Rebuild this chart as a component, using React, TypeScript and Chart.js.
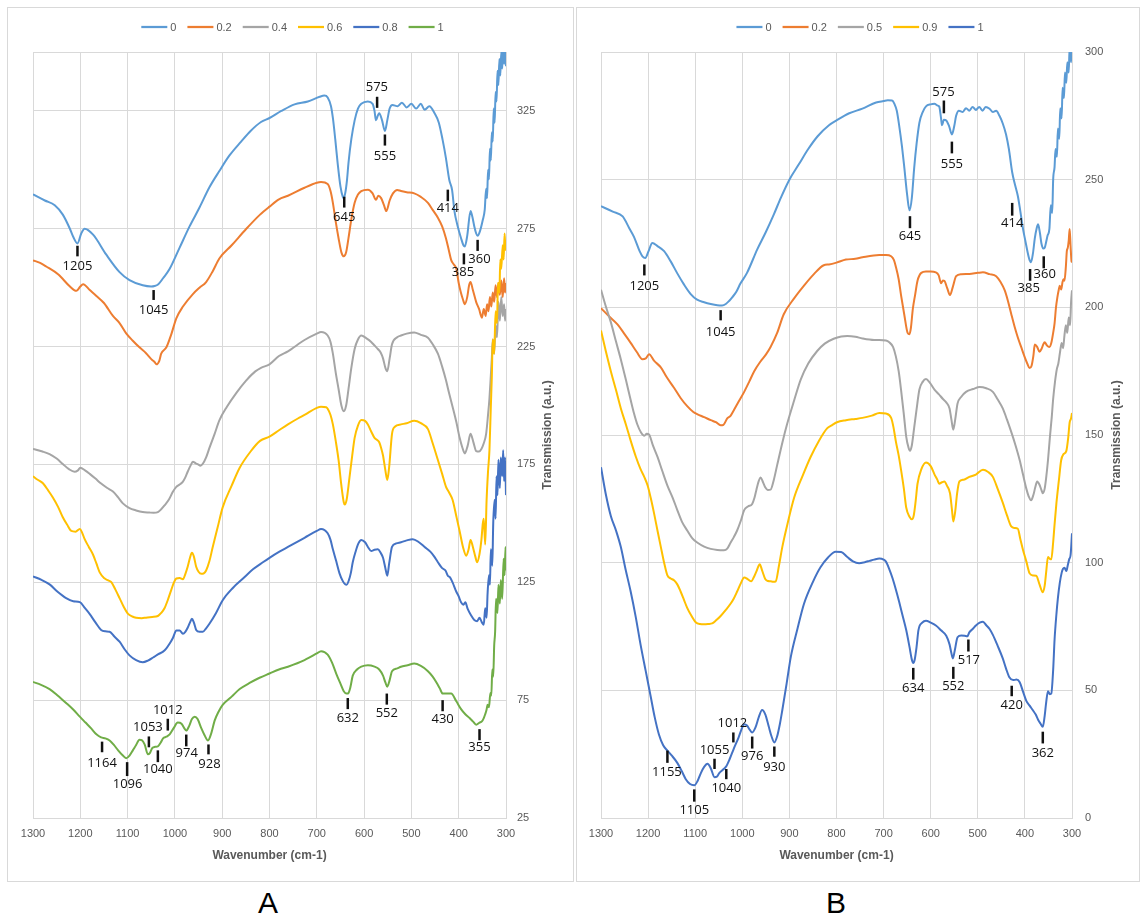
import React, { useEffect, useRef } from "react";
import { Chart, registerables } from "chart.js";

Chart.register(...registerables);
Chart.defaults.font.family = "'Liberation Sans', Arial, sans-serif";

// ---------------- Panel A data: [wavenumber (cm-1), transmission] ----------------
const seriesLabelsA = ["0", "0.2", "0.4", "0.6", "0.8", "1"];
const colorsA = ["#5B9BD5", "#ED7D31", "#A5A5A5", "#FFC000", "#4472C4", "#70AD47"];

const specA_0: [number, number][] = [
  [1300,289.6],[1275,287],[1254,285],[1237,281],[1222,275],[1215,271.6],[1206,268.8],[1198,273],[1191,275],[1173,272.5],[1145,264],[1117,256.6],[1096,253.2],[1068,251],[1050,250.5],[1043,250.7],[1035,251.5],[1025,254],[1011,258],[990,267],[969,276],[948,284],[927,292.6],[906,299.5],[885,306],[860,312],[840,316.5],[818,320.3],[800,322],[775,325],[747,327.8],[719,329],[694,331],[684,331.5],[677,330.7],[670,327],[666,322],[661,313],[656,303],[650,293],[645,288.5],[643,288],[640,290],[636,296],[633,303],[627,313],[620,321],[613,326],[606,328],[592,329],[582,328],[578,325],[575,321],[571,323],[568,324],[562,321],[556,316.5],[551,321],[546,326],[540,327.5],[529,327],[520,328.5],[510,326.5],[500,328],[490,326],[480,328],[472,325.5],[462,327],[451,324],[442,320],[434,312.7],[427,305],[420,295.8],[414,291.5],[409,282.5],[402,276],[395,271],[390,268],[387,267.5],[382,272],[375,282.5],[371,280],[367,276],[363,273],[360,272],[355,274],[349,278.8],[345,283],[342,292],[340,288],[338,300],[336,296],[334,309],[332,304],[330,316],[328,312],[326,326],[324,320],[322,333],[320,329],[318,342],[316,336],[314,347],[312,340],[310,350],[308,343],[306,352],[304,345],[302,351],[300,344],
];
const specA_02: [number, number][] = [
  [1300,261.6],[1285,260.5],[1272,259],[1247,255.7],[1223,250.7],[1213,249],[1208,248.7],[1200,250.5],[1194,251.5],[1180,249],[1166,246.5],[1150,243.5],[1131,238],[1117,235],[1103,230.6],[1089,227.5],[1075,224.7],[1061,222.2],[1050,219.7],[1043,218.5],[1039,217.5],[1033,219],[1029,222],[1018,224.7],[1008,230],[997,237],[983,242],[962,247.3],[948,250],[934,252.4],[920,257],[906,262.4],[880,268],[849,275],[820,281],[800,284.4],[780,287.5],[761,289],[726,292.4],[700,294.5],[691,294.8],[677,294],[671,291],[666,286],[660,278],[654,271],[648,265],[643,263.3],[638,265],[633,271],[627,279],[620,286],[613,289.5],[606,291],[592,291.6],[582,290],[575,287.3],[570,289],[564,288],[558,285],[553,282.5],[546,287],[539,290],[530,291.5],[522,291],[510,290.5],[494,290],[480,288.5],[465,286],[455,283],[444,279.7],[435,276],[427,271],[421,266],[416,261.8],[411,260],[405,258],[400,252],[395,247.6],[391,245],[387,243],[382,246],[378,251],[375,252.4],[370,249],[363,243.9],[357,241],[351,237.3],[347,241],[343,238],[340,243],[337,240],[334,246],[331,242],[328,248],[325,244],[322,251],[319,246],[316,252],[313,247],[310,253],[307,246],[304,254],[302,248],[300,252],
];
const specA_04: [number, number][] = [
  [1300,181.6],[1280,180.5],[1265,179.4],[1250,177.5],[1237,175.2],[1224,173],[1212,171.9],[1205,172.5],[1200,173.6],[1190,172.5],[1180,171],[1168,169],[1156,166.9],[1143,165],[1131,163.5],[1120,161],[1110,158.5],[1096,156.5],[1082,155.5],[1068,154.8],[1054,154.6],[1045,154.5],[1036,154.8],[1029,156],[1022,157.6],[1013,160],[1004,163.5],[997,165.5],[990,166.5],[983,167.7],[978,169.5],[973,171.9],[967,174.5],[962,176.1],[956,175.5],[951,175],[946,174.5],[941,175.3],[934,178],[927,182],[916,188],[906,193.7],[890,199.5],[870,205.4],[850,210.5],[830,214.5],[818,216],[800,217.5],[780,221],[761,223],[726,227.8],[700,230.5],[691,231.2],[677,229.7],[671,227],[666,222],[660,214],[654,207],[648,200],[643,197.6],[638,200],[633,207],[627,216],[620,224],[613,228],[606,229.7],[595,228.5],[585,227],[578,225.5],[571,224],[565,222.5],[560,220],[555,216],[551,214.6],[546,220],[541,226],[530,229],[522,229.7],[510,230.5],[494,231],[480,230],[465,228.8],[455,226],[444,222],[435,216.5],[427,210.8],[420,205],[413,199.5],[405,193],[398,186.3],[392,182],[387,179.7],[381,183],[375,188],[369,184.5],[363,180.7],[357,180.5],[352,181.6],[347,184],[342,188],[338,196],[335,203],[332,213],[330,220],[328,228],[325,222],[322,234],[319,229],[316,244],[313,236],[310,246],[307,238],[304,243],[302,236],[300,241],
];
const specA_06: [number, number][] = [
  [1300,170],[1290,168.5],[1279,167],[1268,164],[1258,161],[1247,157],[1237,152.6],[1228,149.5],[1219,146.8],[1210,146.5],[1201,147.6],[1196,146],[1191,143.4],[1182,140],[1173,136.7],[1166,133],[1159,129.2],[1149,126.7],[1141,125.8],[1134,125],[1126,122],[1117,118.3],[1108,114.5],[1099,111.6],[1090,110.5],[1082,110],[1070,109.8],[1061,110],[1048,110.3],[1036,110.7],[1029,112],[1022,114],[1015,117.5],[1008,121.6],[1002,125],[997,126.6],[990,126.8],[983,126.3],[978,128.5],[973,131.6],[968,135.5],[964,137.5],[960,136],[955,131.6],[950,129.5],[944,128.6],[939,128.8],[934,130],[927,134],[920,140],[910,148],[899,156.8],[880,166],[863,173.6],[840,180.5],[820,185],[800,186.8],[780,189.5],[761,192],[740,194.5],[726,196],[700,199],[691,199.5],[680,199.3],[677,198.6],[671,196],[666,192],[660,185],[654,176.9],[648,166],[643,159],[641,158],[637,160],[631,169.3],[625,179],[620,186.3],[613,191.5],[606,193.9],[598,193.5],[592,192],[585,189],[578,186.3],[573,185.5],[568,184.4],[564,182],[560,178.8],[555,172.5],[551,168.4],[547,174],[541,188],[535,191],[522,192],[510,192.5],[494,193.5],[480,192.5],[465,190],[455,184],[444,176.9],[435,171],[427,165.6],[420,163],[413,160],[405,153],[398,146.7],[391,140],[384,136.3],[379,139],[375,143],[370,140],[365,136],[361,133.5],[356,137],[352,143],[349,150],[347,152],[344,141],[341,160],[338,172],[335,181],[332,200],[330,212],[328,228],[325,222],[322,240],[319,235],[317,252],[314,248],[312,262],[310,258],[307,268],[305,262],[303,273],[301,266],[300,270],
];
const specA_08: [number, number][] = [
  [1300,127.5],[1282,126],[1265,124.1],[1248,121],[1230,118.3],[1215,117],[1201,116.6],[1190,114],[1180,111.5],[1168,108],[1156,104.8],[1147,104.2],[1138,104],[1128,102],[1117,99.8],[1106,96.5],[1096,94],[1082,92],[1068,91.1],[1057,91.8],[1046,93.1],[1035,94.5],[1025,95.6],[1018,97],[1011,99],[1004,101.5],[997,104.5],[990,104.5],[983,103.2],[978,104],[973,105.7],[968,108],[964,109.5],[960,108],[955,104.8],[948,104],[941,104],[934,105.5],[927,107.4],[913,112],[899,117.4],[878,122.5],[856,126.6],[835,130.5],[814,133.5],[800,135.4],[779,138],[761,140],[726,143.9],[700,146.8],[691,147.6],[677,145.8],[671,143],[666,139],[659,134],[652,128.8],[645,125.5],[640,124.2],[637,124],[632,126],[628,129],[624,133.5],[618,138],[612,141.5],[606,143],[598,142],[592,140],[585,138.3],[578,138.8],[571,139],[565,137.5],[560,135.4],[555,131],[551,127.8],[547,133],[541,140],[532,141.5],[522,142],[510,142.8],[497,143.3],[484,142],[472,140],[460,138],[452,136],[444,133.5],[435,131],[428,130],[423,127.8],[418,127],[413,125],[405,121],[400,119],[395,116.5],[390,115.5],[386,116.5],[381,113.7],[374,111],[367,109],[361,108.5],[356,110],[351,108],[347,107],[344,114],[341,110],[339,120],[336,128],[334,124],[332,139],[329,132],[327,150],[324,160],[322,152],[320,170],[318,162],[316,177],[313,165],[311,178],[308,170],[306,181],[304,168],[302,178],[300,162],
];
const specA_1: [number, number][] = [
  [1300,82.7],[1283,81.5],[1265,79.7],[1248,77],[1230,73.8],[1215,71],[1201,68],[1189,65.5],[1177,63],[1166,60.5],[1156,59.2],[1147,58.8],[1138,57.9],[1129,56],[1120,53.7],[1110,51.5],[1103,50.4],[1096,51.5],[1089,53.7],[1082,56],[1075,58.2],[1070,58],[1064,56.2],[1057,52],[1053,52.5],[1048,54.6],[1042,55.2],[1036,55.4],[1030,57],[1025,58.8],[1018,59.5],[1011,60.5],[1003,63],[994,65.5],[986,65],[980,63],[976,62.1],[970,64],[964,67],[958,68],[952,67],[944,63],[937,60],[930,57.9],[923,61],[916,66.3],[908,70],[899,73],[880,76.5],[863,79.7],[840,82.5],[821,84.5],[800,86.3],[780,88],[761,89.2],[726,92],[700,94.8],[691,95.8],[677,94.3],[668,91],[659,86.3],[650,82],[643,78.8],[637,77.8],[634,77.8],[629,80.5],[624,85.4],[615,88],[606,89.2],[592,89.8],[578,89.2],[568,88],[560,85.4],[555,82.5],[551,80.7],[546,83.5],[541,87.3],[530,88.5],[522,89.2],[508,89.8],[494,90.5],[480,89.5],[465,87.3],[455,85],[447,82.5],[440,80],[434,77.8],[425,77.8],[416,77.8],[405,74.5],[395,71.2],[386,69],[377,67.4],[370,66],[363,64.6],[356,65.5],[351,66],[347,67.4],[344,69],[341,71],[339,73],[336,72],[333,78],[331,77],[329,88],[327,85],[325,98],[323,104],[321,118],[318,112],[316,124],[313,116],[311,126],[308,118],[305,135],[303,128],[301,140],[300,130],
];
const spectraA = [specA_0, specA_02, specA_04, specA_06, specA_08, specA_1];

// ---------------- Panel B data ----------------
const seriesLabelsB = ["0", "0.2", "0.5", "0.9", "1"];
const colorsB = ["#5B9BD5", "#ED7D31", "#A5A5A5", "#FFC000", "#4472C4"];

const specB_0: [number, number][] = [
  [1300,239.6],[1275,237.5],[1254,235.6],[1240,231],[1230,227.6],[1218,222],[1212,220],[1206,219.3],[1199,222],[1191,225.2],[1180,224],[1166,222],[1152,218],[1138,213.3],[1124,209],[1110,205.3],[1096,203],[1081,202],[1067,201.3],[1053,200.8],[1043,200.7],[1035,201.3],[1028,202.5],[1021,204],[1013,206],[1004,209.3],[990,213.5],[968,222.8],[950,229.5],[933,236.4],[918,243],[900,250],[880,256],[860,262],[840,267],[816,271.3],[800,273.2],[773,276],[745,277.8],[716,280.2],[700,280.8],[691,281.1],[682,281],[677,279.7],[672,277],[667,271.3],[661,263],[656,254.7],[650,244],[645,238],[640,243],[635,254.7],[630,264],[624,272.3],[617,276.5],[610,278.7],[600,279.5],[592,279.7],[585,279],[582,278.7],[578,274],[576,271.3],[572,273.5],[567,273.2],[561,271],[555,267.7],[550,271],[546,275],[540,277],[532,276.5],[525,278],[518,277],[511,278.5],[504,277.3],[497,278.5],[490,277],[483,278.5],[475,277.8],[468,276.5],[461,277],[454,275],[447,272],[440,267.7],[434,262],[427,252.9],[421,248],[415,243.6],[410,238],[404,230.7],[399,226],[394,221.4],[390,218.5],[387,217.7],[383,221],[379,227],[375,231],[372,232.5],[368,229],[365,225.1],[361,223],[358,223.3],[355,225.5],[352,228],[348,230.7],[345,240],[342,237],[340,250],[337,255],[335,262],[332,259],[330,270],[327,266],[325,278],[322,274],[320,286],[317,282],[315,292],[312,288],[310,296],[307,292],[305,302],[302,296],[300,303],
];
const specB_02: [number, number][] = [
  [1300,199.7],[1283,196.5],[1265,193.3],[1250,189.5],[1237,186.1],[1224,182.5],[1212,179.7],[1205,180],[1198,181.6],[1187,179],[1173,176.5],[1160,172.5],[1145,168.5],[1131,164.5],[1117,161.3],[1104,159],[1095,158.1],[1081,157],[1067,155.8],[1056,155],[1046,153.8],[1040,154],[1032,156.5],[1025,157.5],[1018,159.7],[1008,163],[996,166.9],[985,171],[975,174.9],[961,178.9],[950,181.5],[940,184.5],[926,190],[912,197.3],[890,203.5],[869,208.5],[848,213],[827,216.5],[816,216.8],[800,217.5],[780,218.7],[760,219],[745,219.6],[709,220.5],[695,220.5],[684,220],[678,218.5],[674,215.9],[668,211],[663,204.8],[656,197],[649,190],[645,189.5],[642,192],[638,199.3],[633,205],[628,210.4],[620,213.5],[610,214],[600,214],[589,213.7],[583,212.5],[578,209.4],[574,210.5],[571,210.4],[565,207.5],[559,204.8],[553,208],[546,212.2],[535,213],[518,213.1],[500,213.5],[489,213.7],[475,213],[461,212.2],[452,210],[443,206.7],[436,202.5],[429,197.4],[422,192.5],[415,188.2],[408,184.5],[401,180.8],[395,178],[390,176.2],[386,177],[382,181],[379,185.4],[374,184.5],[369,182.6],[364,184],[361,185.5],[358,186.3],[353,185],[348,184.5],[344,186],[340,190],[337,193.7],[334,200],[331,204],[328,207],[326,208.5],[323,207],[320,210],[318,211],[316,210.4],[313,216],[311,222],[309,223.3],[307,226],[305,230.7],[303,224],[301,218],[300,217.7],
];
const specB_05: [number, number][] = [
  [1300,206.9],[1290,200.5],[1279,194.1],[1268,186.5],[1258,179.7],[1247,171.5],[1237,163.7],[1230,158.5],[1223,154.2],[1215,151],[1208,149.7],[1203,150.5],[1198,150.2],[1190,146],[1180,141.4],[1170,136],[1159,130.2],[1148,125.5],[1138,120.6],[1128,116],[1117,112.6],[1106,109.5],[1095,107.8],[1081,106.3],[1067,105.4],[1053,105],[1039,104.9],[1032,105.5],[1025,107.8],[1018,110],[1011,112.6],[1003,116.5],[996,120.6],[988,122],[979,123],[974,125.5],[970,128.6],[965,132],[961,133.4],[956,131.5],[951,129.4],[946,128.5],[940,128.6],[933,132.5],[926,138.2],[915,147],[905,154.2],[890,163.5],[876,171.7],[860,178],[841,182.9],[825,185.8],[806,187.7],[790,188.6],[777,188.8],[760,188.5],[745,187.8],[720,187.2],[709,187.2],[695,187],[688,186.3],[680,184.5],[674,180.8],[668,175],[663,167.8],[657,158],[652,149.4],[647,145],[644,143.8],[640,146],[635,153],[630,160],[624,167.8],[617,170.8],[610,171.9],[602,170.5],[592,167.8],[583,166],[574,164.1],[567,162.8],[560,160.4],[556,156],[552,152.1],[548,156],[543,162.3],[535,165],[525,166.9],[510,168],[496,168.8],[482,168.3],[468,166.9],[458,164],[447,160.4],[438,156],[429,151.2],[420,146],[411,140.1],[404,134.5],[397,129],[392,126],[387,124.4],[382,126.5],[378,129.5],[374,131.8],[369,130.5],[365,128.5],[362,127.2],[358,129],[355,133],[351,140.1],[347,149],[343,157],[340,164.1],[336,171],[332,176],[329,178],[325,183],[322,186],[319,184],[316,189],[313,193],[310,190],[307,196],[304,193],[302,202],[300,206.7],
];
const specB_09: [number, number][] = [
  [1300,190.9],[1290,183],[1279,174.9],[1268,167.5],[1258,160.5],[1247,154],[1237,147.8],[1226,141.5],[1216,136.6],[1208,133.5],[1201,130.2],[1194,125],[1187,119],[1180,112.5],[1173,106.2],[1166,100],[1159,95],[1152,93.8],[1145,93.1],[1138,91.5],[1131,88.7],[1124,85.5],[1117,82.3],[1108,79.2],[1099,76.7],[1090,76],[1081,75.9],[1072,76],[1064,76.2],[1055,77.5],[1046,79.1],[1035,81.5],[1025,83.9],[1018,86],[1011,88.7],[1003,92],[996,94.2],[988,93.5],[981,92.7],[975,94.5],[970,96.6],[966,98.5],[963,99.4],[958,97],[951,93.5],[945,92.8],[940,92.7],[934,92.5],[929,92.7],[922,99],[915,106.2],[903,116],[890,125.4],[872,134],[855,141.4],[838,147.5],[820,152.6],[810,153.8],[799,155],[780,155.8],[760,156.3],[745,156.7],[725,157.6],[709,158.6],[695,158.4],[684,156.7],[679,153],[674,147.5],[668,142],[663,136.4],[657,129],[652,121.6],[645,118],[640,117],[636,118.5],[632,124],[628,130.9],[620,136.5],[610,139.2],[600,137.8],[592,134.6],[586,132.5],[582,130.9],[576,131.5],[571,131.8],[565,130],[559,127.2],[555,121],[552,116.1],[548,120],[544,127],[539,131.8],[530,132.5],[518,133.6],[504,134.5],[489,136.4],[478,135.5],[468,133.6],[458,129],[447,123.5],[438,118.5],[429,114.2],[422,113.6],[415,113.3],[410,109.5],[404,105],[397,100.5],[390,95.8],[383,95],[376,94.9],[369,91.5],[362,88.4],[358,91],[355,96],[351,102.2],[347,101.5],[344,101.3],[340,108],[337,115],[333,123.5],[328,132],[323,140.1],[318,142.5],[312,143.8],[308,149],[305,154.9],[302,156.5],[300,158.6],
];
const specB_1: [number, number][] = [
  [1300,137.4],[1290,127],[1279,118.2],[1268,112.5],[1258,106.2],[1248,97.5],[1237,88.7],[1226,78.5],[1216,67.9],[1205,57.5],[1194,47.1],[1186,39.5],[1177,32.7],[1168,28.5],[1159,26.4],[1150,24.5],[1138,21.6],[1129,18.5],[1120,15.2],[1111,13.3],[1102,12.8],[1095,14.5],[1088,17.6],[1081,20],[1074,21.2],[1067,19.5],[1059,16],[1054,16.2],[1049,17.6],[1042,18.8],[1035,20],[1027,23],[1018,27.2],[1008,31.5],[1000,35.5],[996,36.7],[990,36.2],[984,34.5],[979,33.5],[972,35.5],[965,39.5],[958,42.3],[951,40.5],[944,35.9],[938,32],[932,29.6],[926,32],[920,37],[915,42.3],[906,52.5],[897,63.1],[883,74],[869,83.9],[850,92.5],[834,98.2],[818,102],[802,104.3],[790,104.2],[777,102.2],[765,100.5],[752,99.8],[740,100.2],[730,100.7],[720,101.2],[709,101.6],[700,101.2],[695,100.4],[688,97.5],[681,93.9],[674,89.5],[667,84.7],[660,79.5],[652,73.6],[645,67],[640,62],[637,60.7],[634,62],[630,67],[626,73.6],[618,76.5],[610,77.3],[600,76.5],[589,75.4],[578,73.5],[567,71.4],[560,68],[556,64.5],[553,62.5],[549,65.5],[543,70.8],[535,71.5],[528,71.4],[522,71.2],[518,72.7],[511,74],[504,75.4],[496,76.5],[489,76.9],[482,75.5],[475,74],[468,71.7],[458,67.5],[447,62.5],[440,58.5],[433,55.1],[425,54],[418,54.2],[411,53.2],[404,49.5],[397,45.9],[390,44],[383,42.2],[377,40.5],[372,38.5],[367,37],[362,35.7],[358,40],[355,45],[351,49.6],[347,48.5],[344,48.7],[340,58],[337,69.9],[333,80],[330,86],[326,92],[322,96],[319,97.6],[316,98],[312,96.7],[309,99],[306,101.3],[303,103],[300,111.5],
];
const spectraB = [specB_0, specB_02, specB_05, specB_09, specB_1];

// ---------------- axes ----------------
const xTicks = [1300, 1200, 1100, 1000, 900, 800, 700, 600, 500, 400, 300];
const yTicksA = [25, 75, 125, 175, 225, 275, 325];
const yMaxA = 350;
const yTicksB = [0, 50, 100, 150, 200, 250, 300];

// ---------------- peak labels: [text, tick wn, tick top, tick bottom, text wn, text centre] ----------------
const peaksA: [string, number, number, number, number, number][] = [
  ["1205", 1206, 267.8, 263.3, 1206, 259.1],
  ["1045", 1045, 249, 244.8, 1045, 240.6],
  ["645", 642, 288.6, 284, 642, 279.7],
  ["575", 572.5, 331, 326.3, 573, 335],
  ["555", 556, 315, 310.3, 556, 305.8],
  ["414", 423, 291.6, 286.7, 423, 283.5],
  ["385", 389, 264.6, 259.9, 391, 256.7],
  ["360", 360, 270.3, 265.6, 356, 262.2],
  ["632", 634.5, 75.9, 71.2, 634.5, 67.5],
  ["552", 552, 77.8, 73.1, 552, 69.3],
  ["430", 434, 75, 70.3, 434, 66.9],
  ["355", 356, 62.7, 58, 356, 55.2],
  ["1164", 1154, 57.4, 52.9, 1154, 48.3],
  ["1096", 1101, 48.7, 42.8, 1100, 39.5],
  ["1053", 1055, 59.6, 55, 1057, 63.3],
  ["1040", 1036, 53.7, 48.7, 1036, 45.7],
  ["1012", 1015, 67.1, 62.1, 1015, 70.8],
  ["974", 976, 60.4, 55.4, 975, 52.4],
  ["928", 929, 56.2, 52, 927, 47.8],
];
const peaksB: [string, number, number, number, number, number][] = [
  ["1205", 1208, 216.8, 212.5, 1208, 208.1],
  ["1045", 1046, 198.9, 194.9, 1046, 190.1],
  ["645", 644, 235.7, 231, 644, 227.9],
  ["575", 572, 281, 276, 573, 284.3],
  ["555", 555, 264.9, 260.3, 555, 256.2],
  ["414", 427, 240.9, 235.9, 427, 233.1],
  ["385", 389, 215, 210.4, 392, 207.6],
  ["360", 360, 220, 215.3, 358, 212.8],
  ["1155", 1159, 26.4, 21.6, 1160, 18],
  ["1105", 1102, 11.2, 6.4, 1102, 3.2],
  ["1055", 1059, 23.2, 19.2, 1059, 26.7],
  ["1040", 1034, 19.2, 15.2, 1034, 11.7],
  ["1012", 1019, 33.5, 29.6, 1021, 37],
  ["976", 979, 31.9, 27.2, 979, 24],
  ["930", 932, 28, 24, 932, 20],
  ["634", 637, 58.8, 54.2, 637, 50.8],
  ["552", 552, 59.2, 54.5, 552, 51.4],
  ["517", 520, 69.9, 65.2, 519, 61.6],
  ["420", 428, 51.8, 47.7, 428, 44],
  ["362", 362, 33.8, 29.2, 362, 25.5],
];

const GRID = "#d9d9d9";
const TXT = "#595959";

type PanelProps = {
  labels: string[];
  colors: string[];
  spectra: [number, number][][];
  yMin: number;
  yMax: number;
  yTicks: number[];
  peaks: [string, number, number, number, number, number][];
  width: number;
  height: number;
  areaLeft: number;
  yAxisWidth: number;
  yTickPad: number;
  yTitleOffset: number;
};

function Panel(props: PanelProps) {
  const ref = useRef<HTMLCanvasElement | null>(null);
  useEffect(() => {
    const canvas = ref.current;
    if (!canvas) return;
    const tickList = props.yTicks.indexOf(props.yMax) >= 0 ? props.yTicks : [...props.yTicks, props.yMax];

    const overlay = {
      id: "overlay",
      afterDatasetsDraw(chart: any) {
        const ctx = chart.ctx as CanvasRenderingContext2D;
        const xs = chart.scales.x;
        const ys = chart.scales.y;
        ctx.save();
        for (const p of props.peaks) {
          const [text, wn, top, bottom, twn, ty] = p;
          const x = xs.getPixelForValue(wn);
          ctx.strokeStyle = "#111";
          ctx.lineWidth = 2.5;
          ctx.beginPath();
          ctx.moveTo(x, ys.getPixelForValue(top));
          ctx.lineTo(x, ys.getPixelForValue(bottom));
          ctx.stroke();
          ctx.fillStyle = "#111";
          ctx.font = "13px 'Open Sans', 'Liberation Sans', sans-serif";
          ctx.textAlign = "center";
          ctx.textBaseline = "middle";
          ctx.fillText(text, xs.getPixelForValue(twn), ys.getPixelForValue(ty));
        }
        ctx.restore();
      },
      afterDraw(chart: any) {
        const ctx = chart.ctx as CanvasRenderingContext2D;
        const area = chart.chartArea;
        ctx.save();
        // legend
        ctx.font = "11px 'Liberation Sans', Arial, sans-serif";
        const lineLen = 26, gapText = 3, gapItem = 11;
        const widths = props.labels.map((l) => ctx.measureText(l).width);
        let total = 0;
        widths.forEach((w, i) => {
          total += lineLen + gapText + w + (i < widths.length - 1 ? gapItem : 0);
        });
        let x = chart.width / 2 + 2 - total / 2;
        const y = 19;
        props.labels.forEach((l, i) => {
          ctx.strokeStyle = props.colors[i];
          ctx.lineWidth = 2.25;
          ctx.beginPath();
          ctx.moveTo(x, y);
          ctx.lineTo(x + lineLen, y);
          ctx.stroke();
          ctx.fillStyle = TXT;
          ctx.textAlign = "left";
          ctx.textBaseline = "middle";
          ctx.fillText(l, x + lineLen + gapText, y + 0.5);
          x += lineLen + gapText + widths[i] + gapItem;
        });
        // y axis title (reads bottom to top)
        ctx.translate(area.right + props.yTitleOffset, (area.top + area.bottom) / 2);
        ctx.rotate(-Math.PI / 2);
        ctx.font = "bold 12px 'Liberation Sans', Arial, sans-serif";
        ctx.fillStyle = TXT;
        ctx.textAlign = "center";
        ctx.textBaseline = "middle";
        ctx.fillText("Transmission (a.u.)", 0, 0);
        ctx.restore();
      },
    };

    const chart = new Chart(canvas, {
      type: "line",
      data: {
        datasets: props.labels.map((lab, i) => ({
          label: lab,
          data: props.spectra[i].map(([w, v]) => ({ x: w, y: v })),
          borderColor: props.colors[i],
          backgroundColor: props.colors[i],
          borderWidth: 2,
          pointRadius: 0,
          cubicInterpolationMode: "monotone",
          order: props.labels.length - i,
        })),
      },
      options: {
        responsive: false,
        animation: false,
        devicePixelRatio: 1,
        events: [],
        layout: { padding: { left: props.areaLeft, top: 44, right: 0, bottom: 0 } },
        plugins: { legend: { display: false }, tooltip: { enabled: false } },
        scales: {
          x: {
            type: "linear",
            min: 300,
            max: 1300,
            reverse: true,
            afterBuildTicks: (s: any) => {
              s.ticks = xTicks.map((v) => ({ value: v }));
            },
            afterFit: (s: any) => {
              s.height = 63;
            },
            grid: { color: GRID, lineWidth: 1, drawTicks: false },
            border: { color: GRID },
            ticks: {
              padding: 9,
              color: TXT,
              font: { size: 11 },
              maxRotation: 0,
              autoSkip: false,
              callback: (v: any) => String(v),
            },
            title: {
              display: true,
              text: "Wavenumber (cm-1)",
              color: TXT,
              font: { size: 12, weight: "bold" },
              padding: { top: 0, bottom: 18 },
            },
          },
          y: {
            type: "linear",
            position: "right",
            min: props.yMin,
            max: props.yMax,
            afterBuildTicks: (s: any) => {
              s.ticks = tickList.map((v) => ({ value: v }));
            },
            afterFit: (s: any) => {
              s.width = props.yAxisWidth;
            },
            grid: { color: GRID, lineWidth: 1, drawTicks: false },
            border: { color: GRID },
            ticks: {
              padding: props.yTickPad,
              color: TXT,
              font: { size: 11 },
              callback: (v: any) => (props.yTicks.indexOf(Number(v)) >= 0 ? String(v) : ""),
            },
          },
        },
      },
      plugins: [overlay],
    } as any);
    return () => chart.destroy();
  }, []);
  return <canvas ref={ref} width={props.width} height={props.height} style={{ display: "block", width: props.width, height: props.height }} />;
}

export default function App() {
  return (
    <div style={{ position: "absolute", left: 0, top: 0, width: 1140, height: 919, background: "#fff", overflow: "hidden" }}>
      <div style={{ position: "absolute", left: 7, top: 7, width: 567, height: 875, border: `1px solid ${GRID}`, boxSizing: "border-box" }}>
        <Panel
          labels={seriesLabelsA}
          colors={colorsA}
          spectra={spectraA}
          yMin={25}
          yMax={yMaxA}
          yTicks={yTicksA}
          peaks={peaksA}
          width={565}
          height={873}
          areaLeft={25}
          yAxisWidth={67}
          yTickPad={11}
          yTitleOffset={42}
        />
      </div>
      <div style={{ position: "absolute", left: 576, top: 7, width: 564, height: 875, border: `1px solid ${GRID}`, boxSizing: "border-box" }}>
        <Panel
          labels={seriesLabelsB}
          colors={colorsB}
          spectra={spectraB}
          yMin={0}
          yMax={300}
          yTicks={yTicksB}
          peaks={peaksB}
          width={562}
          height={873}
          areaLeft={24}
          yAxisWidth={67}
          yTickPad={13}
          yTitleOffset={45}
        />
      </div>
      <div style={{ position: "absolute", left: 218, top: 888, width: 100, textAlign: "center", font: "30px 'Liberation Sans', Arial, sans-serif", lineHeight: "30px", color: "#000" }}>A</div>
      <div style={{ position: "absolute", left: 786, top: 888, width: 100, textAlign: "center", font: "30px 'Liberation Sans', Arial, sans-serif", lineHeight: "30px", color: "#000" }}>B</div>
    </div>
  );
}
